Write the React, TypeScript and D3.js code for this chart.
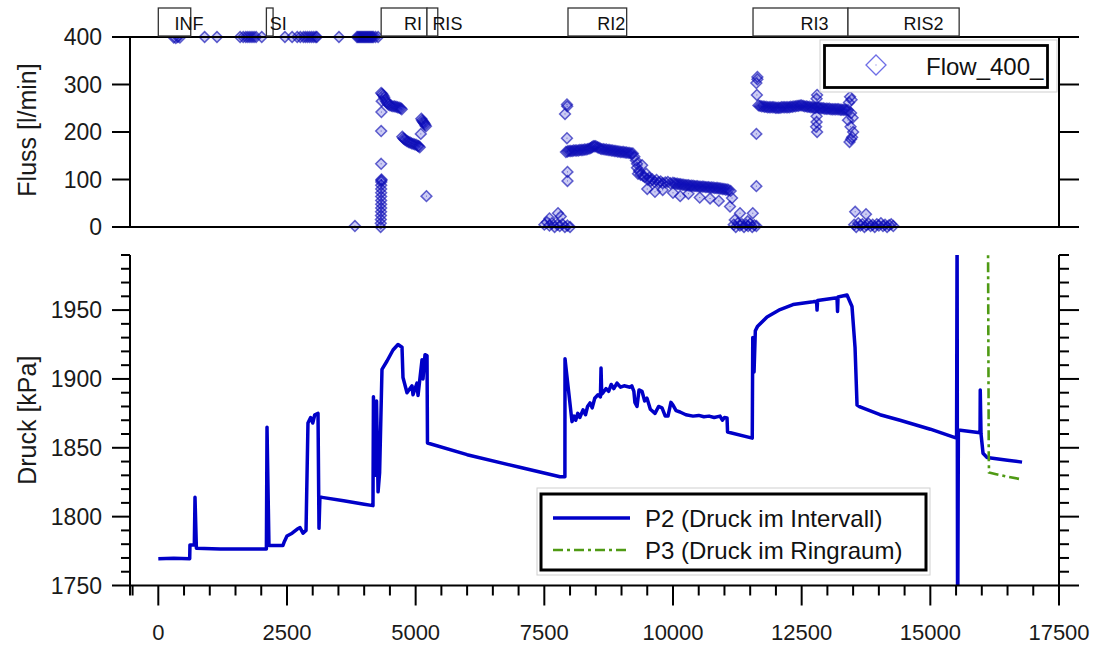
import React from "react";
import * as d3 from "d3";

// ---------- DATA ----------
const flowData: [number, number][] = [
  // INF / SI at 400
  [300, 399], [340, 398], [380, 400], [420, 399], [900, 400], [1140, 400],
  [1590, 400], [1650, 400], [1700, 400], [1740, 400], [1780, 400], [1820, 400], [1860, 400], [1900, 400], [2010, 400],
  [2460, 400], [2600, 400], [2700, 400], [2760, 400], [2820, 400], [2860, 400], [2900, 400], [2940, 400], [2980, 400], [3020, 400], [3060, 400], [3080, 400],
  [3510, 400],
  [3860, 400], [3880, 400], [3900, 400], [3920, 400], [3940, 400], [3960, 400], [3980, 400], [4000, 400], [4020, 400], [4040, 400],
  [4060, 400], [4080, 400], [4100, 400], [4120, 400], [4140, 400], [4160, 400], [4180, 400], [4220, 400], [4270, 400],
  [3820, 2],
  // RI column
  [4320, 0], [4322, 8], [4324, 16], [4326, 24], [4328, 32], [4330, 40], [4330, 48], [4330, 56], [4330, 64], [4330, 72], [4330, 80],
  [4330, 88], [4332, 95], [4334, 98], [4336, 100], [4330, 133], [4330, 202], [4335, 242], [4340, 265],
  // RI blob 1
  [4330, 282], [4350, 280], [4370, 277], [4390, 273], [4410, 268], [4430, 264], [4450, 261], [4470, 258], [4500, 256], [4530, 255],
  [4560, 254], [4590, 254], [4620, 253], [4650, 252], [4680, 251], [4710, 250], [4730, 248],
  // RI blob 2
  [4740, 190], [4760, 187], [4780, 185], [4800, 183], [4830, 181], [4860, 179], [4890, 178], [4920, 176], [4950, 175], [4980, 174],
  [5010, 173], [5040, 171], [5060, 170], [5080, 168],
  // RI blob 3
  [5110, 228], [5125, 225], [5140, 222], [5155, 220], [5170, 218], [5185, 215], [5200, 212],
  [5100, 196], [5210, 65],
  // RI2 zero cluster
  [7500, 5], [7550, 10], [7600, 3], [7650, 8], [7700, 0], [7750, 5], [7800, 2], [7850, 6], [7900, 0], [7950, 3], [8000, 0],
  [7600, 18], [7766, 29], [7820, 22],
  // RI2 isolated
  [7940, 258], [7945, 254], [7902, 238], [7940, 187], [7950, 116], [7950, 97],
  // RI2 band
  [7920, 158], [7950, 159], [7980, 160], [8010, 160], [8040, 160], [8070, 161], [8100, 161], [8130, 161], [8160, 161], [8190, 162],
  [8220, 162], [8250, 162], [8280, 163], [8310, 163], [8340, 164], [8370, 165], [8400, 166], [8425, 168], [8450, 170], [8475, 170],
  [8500, 170], [8530, 168], [8560, 167], [8590, 165], [8620, 164], [8650, 164], [8680, 163], [8710, 163], [8740, 162], [8770, 162],
  [8800, 161], [8830, 161], [8860, 160], [8890, 160], [8920, 159], [8950, 159], [8980, 158], [9010, 158], [9040, 158], [9070, 157],
  [9100, 157], [9130, 156], [9160, 156], [9190, 155], [9220, 155],
  [9250, 148], [9280, 140], [9300, 125], [9320, 112], [9340, 118], [9370, 110], [9400, 130], [9420, 108], [9450, 105], [9480, 112],
  [9510, 100], [9540, 104], [9570, 97], [9600, 100], [9640, 95], [9680, 99], [9720, 94], [9760, 96], [9800, 92], [9850, 94],
  [9900, 95], [9950, 92], [10000, 93], [10030, 92], [10060, 91], [10090, 91], [10120, 90], [10150, 90], [10180, 89], [10210, 89],
  [10240, 88], [10270, 88], [10300, 88], [10330, 87], [10360, 87], [10390, 87], [10420, 86], [10450, 86], [10480, 86], [10510, 85],
  [10540, 85], [10570, 85], [10600, 85], [10630, 84], [10660, 84], [10690, 84], [10720, 83], [10750, 83], [10780, 83], [10810, 82],
  [10840, 82], [10870, 82], [10900, 81], [10930, 81], [10960, 80], [10990, 80], [11020, 79], [11050, 79], [11080, 78], [11120, 76],
  [9301, 133], [9500, 80], [9650, 74], [9800, 78], [10000, 72], [10140, 65], [10300, 70], [10520, 62], [10720, 60], [10890, 55],
  [11147, 61], [11108, 43], [11302, 29],
  // RI2 end zero cluster
  [11180, 5], [11220, 0], [11260, 8], [11300, 3], [11340, 6], [11380, 0], [11420, 5], [11460, 2], [11500, 7], [11540, 0],
  [11580, 4], [11620, 2], [11200, 15], [11450, 12], [11550, 29],
  // RI3 isolated
  [11640, 316], [11640, 311], [11620, 303], [11630, 278], [11620, 196], [11620, 86],
  // RI3 band
  [11660, 256], [11690, 255], [11720, 254], [11750, 254], [11780, 253], [11810, 253], [11840, 252], [11870, 252], [11900, 252],
  [11930, 252], [11960, 252], [11990, 251], [12020, 251], [12050, 251], [12080, 251], [12110, 252], [12140, 252], [12170, 252],
  [12200, 252], [12230, 252], [12260, 252], [12290, 253], [12320, 253], [12350, 254], [12380, 254], [12410, 255], [12440, 255],
  [12470, 256], [12500, 256], [12530, 255], [12560, 254], [12590, 254], [12620, 253], [12650, 253], [12680, 252], [12710, 252],
  [12740, 251], [12770, 251], [12800, 252], [12830, 251], [12860, 250], [12890, 250], [12920, 250], [12950, 249], [12980, 249],
  [13010, 249], [13040, 249], [13070, 248], [13100, 248], [13130, 248], [13160, 248], [13190, 248], [13220, 248], [13250, 247],
  [13280, 247], [13310, 247], [13340, 247], [13370, 246], [13400, 246],
  [12800, 278], [12790, 270], [12790, 233], [12790, 221], [12780, 211], [12800, 200],
  [13440, 274], [13470, 268], [13420, 262], [13460, 240], [13490, 230], [13400, 225], [13450, 211], [13500, 200], [13480, 189],
  [13460, 185], [13430, 179],
  // RIS2 zero cluster
  [13520, 5], [13560, 0], [13600, 8], [13640, 3], [13680, 6], [13720, 0], [13760, 4], [13800, 7], [13840, 2], [13880, 5],
  [13920, 0], [13960, 6], [14000, 3], [14040, 8], [14080, 2], [14120, 5], [14160, 0], [14200, 4], [14240, 6], [14280, 2],
  [13540, 32], [13750, 27],
];

const p2Data: [number, number][] = [
  [0, 1769.5], [300, 1769.8], [610, 1769.5], [615, 1779.5], [700, 1779.5], [713, 1814], [740, 1777], [1200, 1776.5], [2100, 1776.5],
  [2112, 1865], [2150, 1779], [2420, 1779], [2450, 1782], [2500, 1786], [2600, 1788], [2700, 1791], [2753, 1792], [2811, 1788],
  [2870, 1790], [2908, 1868], [2960, 1872], [3000, 1868], [3040, 1874], [3103, 1875], [3122, 1791.5], [3140, 1814], [3181, 1814],
  [3600, 1811.5], [4000, 1809], [4171, 1808], [4180, 1887], [4210, 1830], [4240, 1884], [4270, 1818], [4300, 1832], [4346, 1907],
  [4444, 1913], [4560, 1921], [4657, 1925], [4735, 1923], [4754, 1901], [4832, 1890], [4929, 1895], [4949, 1888.5], [5026, 1897],
  [5046, 1888], [5124, 1914], [5143, 1900], [5182, 1917.6], [5221, 1917], [5230, 1853.5], [6000, 1845], [7000, 1836], [7805, 1829],
  [7900, 1829], [7902, 1914.7], [7930, 1905], [8038, 1869], [8080, 1873], [8110, 1870], [8150, 1875], [8190, 1872], [8252, 1877.5],
  [8300, 1874], [8340, 1880], [8388, 1882.6], [8430, 1879], [8480, 1886], [8543, 1888.5], [8590, 1887], [8602, 1908], [8615, 1889],
  [8640, 1890], [8700, 1893], [8750, 1891], [8800, 1896], [8850, 1893], [8912, 1897], [8980, 1894], [9050, 1895], [9165, 1894],
  [9200, 1895], [9240, 1891], [9260, 1883], [9301, 1880], [9340, 1892], [9398, 1891], [9450, 1884], [9495, 1886], [9560, 1878],
  [9651, 1875], [9720, 1880], [9787, 1879], [9850, 1873], [9903, 1873], [9960, 1883], [10000, 1881], [10060, 1877], [10137, 1876],
  [10250, 1874], [10389, 1873], [10500, 1873.5], [10600, 1872.5], [10700, 1873], [10800, 1872], [10914, 1873], [10960, 1870],
  [11000, 1872], [11050, 1871.7], [11060, 1861.5], [11540, 1857], [11550, 1930], [11575, 1905], [11600, 1935], [11640, 1938],
  [11827, 1945], [12080, 1950.4], [12332, 1954], [12721, 1956], [12790, 1956.5], [12799, 1950], [12810, 1957], [13187, 1959],
  [13197, 1949], [13207, 1959.5], [13381, 1961], [13478, 1952.6], [13537, 1923], [13576, 1881], [13634, 1879.7], [14023, 1874],
  [14411, 1870], [15000, 1863.5], [15510, 1857], [15520, 2010], [15530, 1700], [15545, 1863], [15966, 1861], [15970, 1892],
  [15985, 1860], [16024, 1846], [16102, 1843], [16500, 1841], [16782, 1839.6],
];

const p3Data: [number, number][] = [
  [16121, 2000], [16135, 1846], [16140, 1832], [16260, 1831], [16500, 1829], [16782, 1827],
];

const phaseNames = ["INF", "SI", "RI", "RIS", "RI2", "RI3", "RIS2"];
const phaseStart = [0, 2100, 4330, 5220, 7960, 11555, 13400];
const phaseEnd = [630, 2230, 5220, 5430, 9100, 13400, 15560];

const flowTicks = [0, 100, 200, 300, 400];
const pressureTicks = [1750, 1800, 1850, 1900, 1950];
const timeTicks = [0, 2500, 5000, 7500, 10000, 12500, 15000, 17500];

// ---------- CHART ----------
const FONT = "'Liberation Sans', Arial, sans-serif";

export default function App() {
  const x = d3.scaleLinear().domain([-550, 17500]).range([130, 1059]);
  const yF = d3.scaleLinear().domain([0, 400]).range([227, 37]);
  const yP = d3.scaleLinear().domain([1750, 1990]).range([585.5, 255]);

  const L = x.range()[0];
  const R = x.range()[1];

  const line = d3
    .line<[number, number]>()
    .x((d) => x(d[0]))
    .y((d) => yP(d[1]));

  const dia = (cx: number, cy: number, s: number) =>
    `M${cx},${cy - s}L${cx + s},${cy}L${cx},${cy + s}L${cx - s},${cy}Z`;

  const minorP = d3.range(1750, 1991, 10);
  const minorT = d3.range(-500, 17501, 500);

  return (
    <svg
      width={1099}
      height={645}
      style={{ position: "absolute", left: 0, top: 0, background: "#fff" }}
      fontFamily={FONT}
    >
      <defs>
        <clipPath id="clipP">
          <rect x={L} y={yP(1990)} width={R - L} height={yP(1750) - yP(1990)} />
        </clipPath>
      </defs>

      {/* ---------- TOP PANEL ---------- */}
      <g>
        {flowData.map((d, i) => (
          <g key={i}>
            <path
              d={dia(x(d[0]), yF(d[1]), 5.4)}
              fill="rgb(0,0,200)"
              fillOpacity={0.2}
              stroke="rgb(15,15,180)"
              strokeOpacity={0.65}
              strokeWidth={1.5}
            />
            <rect x={x(d[0]) - 0.5} y={yF(d[1]) - 0.5} width={1} height={1} fill="rgb(20,20,175)" opacity={0.6} />
          </g>
        ))}
      </g>
      {/* top panel frame */}
      <g stroke="#000" strokeWidth={2} fill="none">
        <line x1={L} x2={R} y1={yF(400)} y2={yF(400)} />
        <line x1={L} x2={R} y1={yF(0)} y2={yF(0)} />
        <line x1={L} x2={L} y1={yF(400)} y2={yF(0)} />
        <line x1={R} x2={R} y1={yF(400)} y2={yF(0)} />
        {flowTicks.map((t) => (
          <g key={t}>
            <line x1={L - 18} x2={L} y1={yF(t)} y2={yF(t)} />
            <line x1={R} x2={R + 20} y1={yF(t)} y2={yF(t)} />
          </g>
        ))}
      </g>
      {flowTicks.map((t) => (
        <text key={t} x={102} y={yF(t)} dy="0.36em" textAnchor="end" fontSize={23} fill="#1a1a1a">
          {t}
        </text>
      ))}
      <text
        transform={`translate(36,${(yF(0) + yF(400)) / 2 - 2}) rotate(-90)`}
        textAnchor="middle"
        fontSize={25}
        fill="#1a1a1a"
      >
        Fluss [l/min]
      </text>

      {/* phase boxes */}
      {phaseNames.map((n, i) => {
        const x0 = x(phaseStart[i]);
        const x1 = x(phaseEnd[i]);
        return (
          <g key={n}>
            <rect x={x0} y={8} width={x1 - x0} height={28} fill="#fff" stroke="#333" strokeWidth={1.3} />
            <text x={(x0 + x1) / 2} y={29.5} fontSize={18} fill="#111">
              {n}
            </text>
          </g>
        );
      })}

      {/* top legend */}
      <rect x={820} y={40} width={237} height={52} fill="#fff" stroke="#cfcfcf" strokeWidth={1} />
      <rect x={824.5} y={45.5} width={223} height={42} fill="#fff" stroke="#000" strokeWidth={2.8} />
      <path d={dia(876, 65, 10)} fill="none" stroke="rgb(110,110,230)" strokeWidth={1.3} />
      <rect x={875.5} y={64.5} width={1} height={1} fill="rgb(110,110,230)" />
      <text x={926} y={66} dy="0.36em" fontSize={24} fill="#111">
        Flow_400_
      </text>

      {/* ---------- BOTTOM PANEL ---------- */}
      <g clipPath="url(#clipP)">
        <path d={line(p2Data) || ""} fill="none" stroke="#0000c8" strokeWidth={3.5} strokeLinejoin="round" />
        <path
          d={line(p3Data) || ""}
          fill="none"
          stroke="#4f9a14"
          strokeWidth={2.6}
          strokeDasharray="10,4,3,4"
        />
      </g>
      <g stroke="#000" strokeWidth={2} fill="none">
        <line x1={L} x2={L} y1={yP(1990)} y2={yP(1750) + 10} />
        <line x1={R} x2={R} y1={yP(1990)} y2={yP(1750)} />
        <line x1={L} x2={R} y1={yP(1750)} y2={yP(1750)} />
        {minorP.map((t) => {
          const major = pressureTicks.includes(t);
          return (
            <g key={t}>
              <line x1={L - (major ? 18 : 9)} x2={L} y1={yP(t)} y2={yP(t)} />
              <line x1={R} x2={R + (major ? 20 : 10)} y1={yP(t)} y2={yP(t)} />
            </g>
          );
        })}
        {minorT.map((t) => {
          const major = timeTicks.includes(t);
          return <line key={t} x1={x(t)} x2={x(t)} y1={yP(1750)} y2={yP(1750) + (major ? 20 : 10)} />;
        })}
      </g>
      {pressureTicks.map((t) => (
        <text key={t} x={102} y={yP(t)} dy="0.36em" textAnchor="end" fontSize={23} fill="#1a1a1a">
          {t}
        </text>
      ))}
      {timeTicks.map((t) => (
        <text key={t} x={x(t)} y={640} textAnchor="middle" fontSize={22} fill="#1a1a1a">
          {t}
        </text>
      ))}
      <text
        transform={`translate(36,${(yP(1750) + yP(1990)) / 2}) rotate(-90)`}
        textAnchor="middle"
        fontSize={25}
        fill="#1a1a1a"
      >
        Druck [kPa]
      </text>

      {/* bottom legend */}
      <rect x={537} y={488} width={393} height={87} fill="#fff" stroke="#cfcfcf" strokeWidth={1} />
      <rect x={541} y={494} width={385} height={76} fill="#fff" stroke="#000" strokeWidth={3} />
      <line x1={553} x2={630} y1={518} y2={518} stroke="#0000c8" strokeWidth={3.5} />
      <line x1={553} x2={630} y1={550} y2={550} stroke="#4f9a14" strokeWidth={2.6} strokeDasharray="10,4,3,4" />
      <text x={645} y={518} dy="0.36em" fontSize={24} fill="#111">
        P2 (Druck im Intervall)
      </text>
      <text x={645} y={550} dy="0.36em" fontSize={24} fill="#111">
        P3 (Druck im Ringraum)
      </text>
    </svg>
  );
}
